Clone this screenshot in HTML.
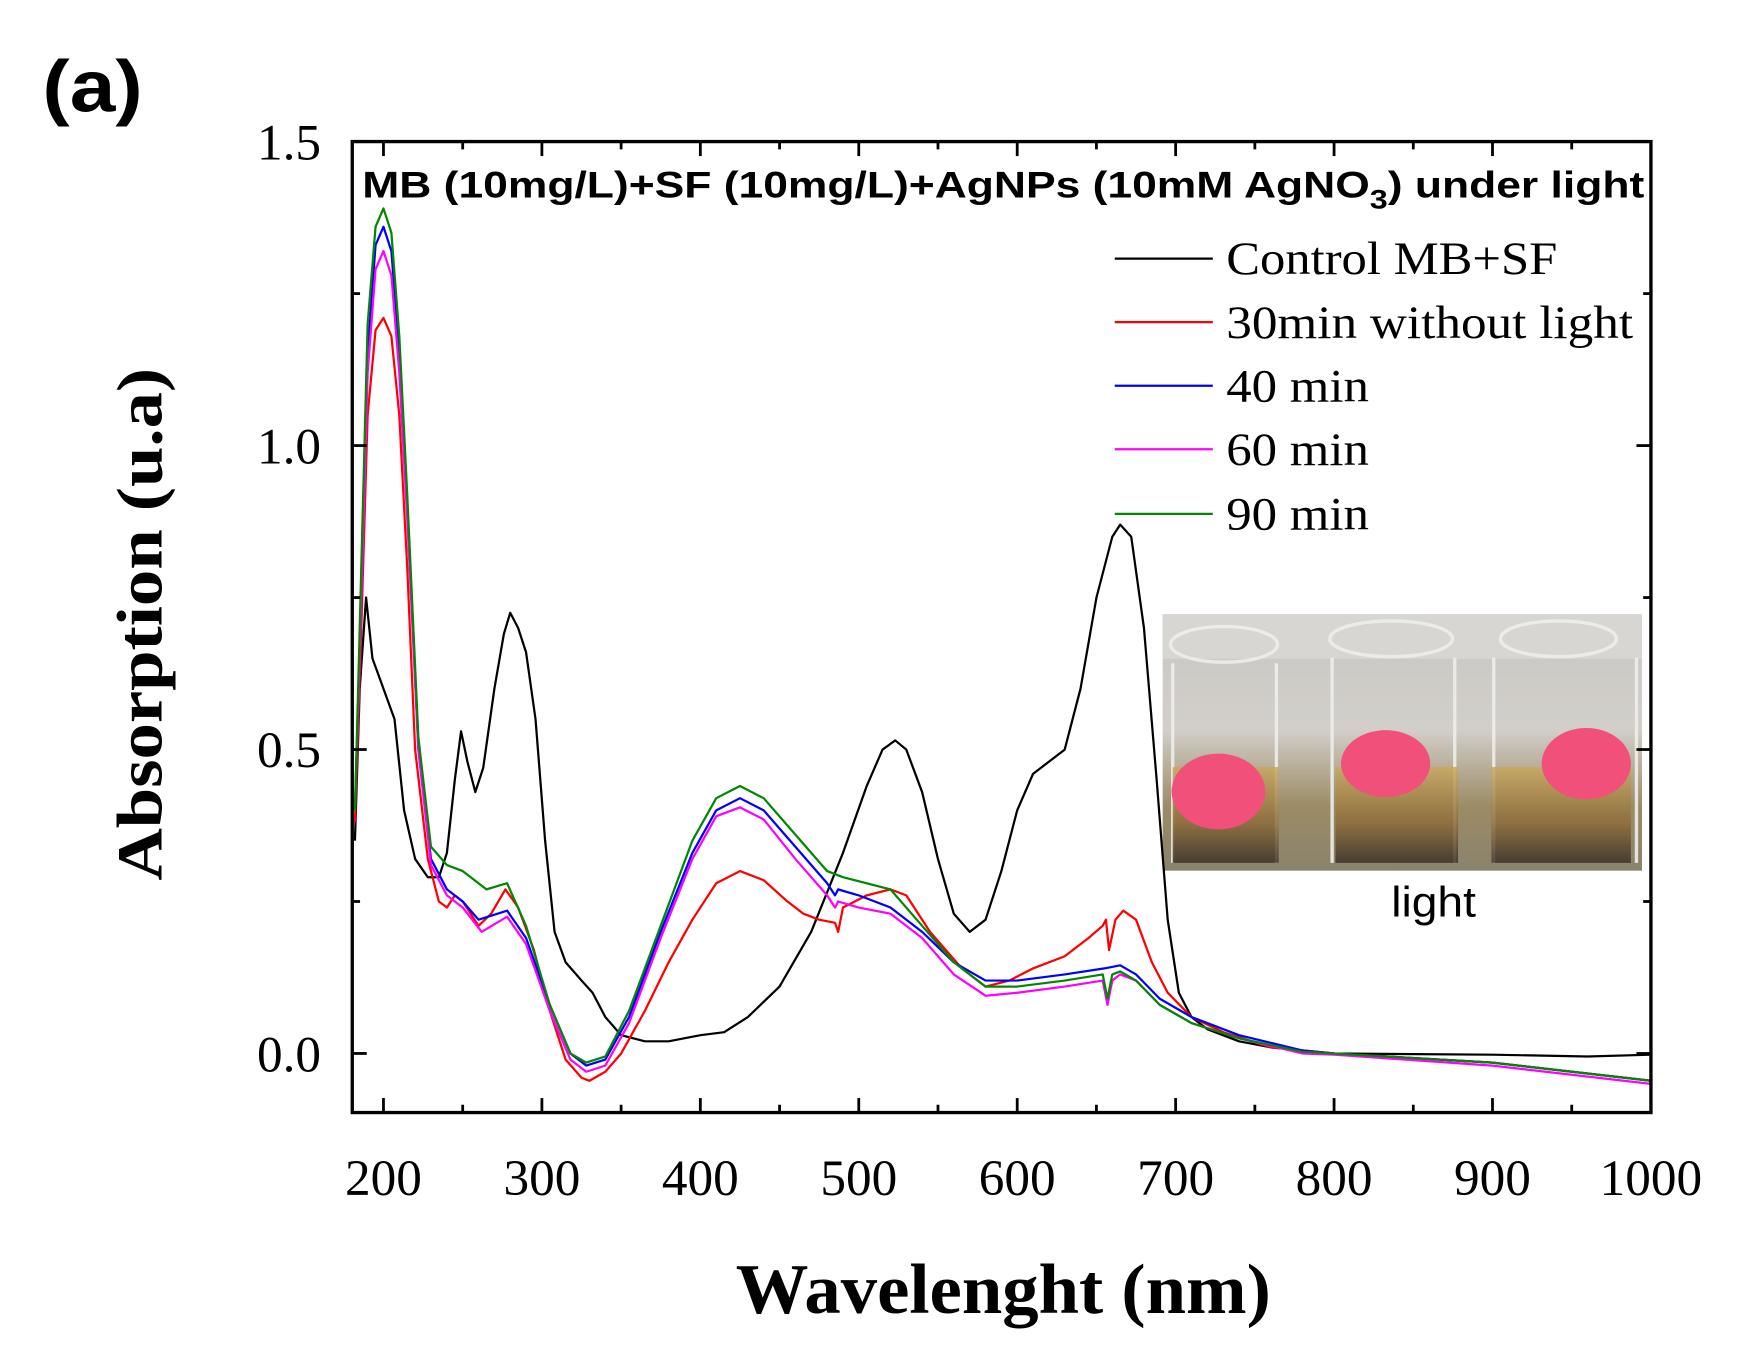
<!DOCTYPE html><html><head><style>html,body{margin:0;padding:0;background:#fff}svg{display:block}</style></head><body>
<svg id="s" width="1739" height="1350" viewBox="0 0 1560 1211" preserveAspectRatio="none" xmlns="http://www.w3.org/2000/svg">
<defs>
<linearGradient id="bg" x1="0" y1="0" x2="0" y2="1"><stop offset="0" stop-color="#c9c7c3"/><stop offset="0.45" stop-color="#d2cfca"/><stop offset="0.75" stop-color="#9c8c66"/><stop offset="1" stop-color="#8a826c"/></linearGradient>
<linearGradient id="liq" x1="0" y1="0" x2="0" y2="1"><stop offset="0" stop-color="#c9a860"/><stop offset="0.6" stop-color="#8a6a3a"/><stop offset="1" stop-color="#3a3028"/></linearGradient>
</defs>
<text x="38" y="100" font-family="Liberation Sans, sans-serif" font-weight="bold" font-size="66" textLength="90" lengthAdjust="spacingAndGlyphs">(a)</text>
<g id="ins">
<rect x="1043" y="551" width="430" height="230" fill="url(#bg)"/>
<rect x="1043" y="551" width="430" height="40" fill="#d8d6d2"/>
<g fill="none" stroke="#eeeeea" stroke-width="3" opacity="0.9">
<ellipse cx="1098" cy="578" rx="48" ry="16"/><ellipse cx="1248" cy="573" rx="55" ry="16"/><ellipse cx="1398" cy="573" rx="52" ry="16"/>
<path d="M1052 595 L1052 774 M1145 595 L1145 774 M1195 590 L1195 774 M1305 590 L1305 774 M1340 590 L1340 774 M1468 590 L1468 774"/>
</g>
<rect x="1052" y="688" width="95" height="86" fill="url(#liq)" opacity="0.85"/>
<rect x="1198" y="688" width="110" height="86" fill="url(#liq)" opacity="0.85"/>
<rect x="1338" y="688" width="125" height="86" fill="url(#liq)" opacity="0.85"/>
<ellipse cx="1093" cy="710" rx="42" ry="34" fill="#f0507a"/>
<ellipse cx="1243" cy="685" rx="40" ry="30" fill="#f0507a"/>
<ellipse cx="1423" cy="685" rx="40" ry="32" fill="#f0507a"/>
</g>
<text x="1286" y="822" font-family="Liberation Sans, sans-serif" font-size="38" text-anchor="middle" textLength="76" lengthAdjust="spacingAndGlyphs">light</text>
<g id="curves" fill="none" stroke-width="2"></g>
<rect x="316" y="127" width="1165" height="871" fill="none" stroke="#000" stroke-width="3"/>
<g id="ticks" stroke="#000" stroke-width="2.5"></g>
<g font-family="Liberation Serif, serif" font-size="46" text-anchor="middle" id="xl"></g>
<g font-family="Liberation Serif, serif" font-size="46" text-anchor="end">
<text x="288" y="143">1.5</text><text x="288" y="416">1.0</text><text x="288" y="688">0.5</text><text x="288" y="961">0.0</text>
</g>
<text x="660" y="1178" font-family="Liberation Serif, serif" font-weight="bold" font-size="64" textLength="480" lengthAdjust="spacingAndGlyphs">Wavelenght (nm)</text>
<text transform="translate(145,790) rotate(-90)" font-family="Liberation Serif, serif" font-weight="bold" font-size="58" textLength="460" lengthAdjust="spacingAndGlyphs">Absorption (u.a)</text>
<text x="325" y="177" font-family="Liberation Sans, sans-serif" font-weight="bold" font-size="33" textLength="1150" lengthAdjust="spacingAndGlyphs">MB (10mg/L)+SF (10mg/L)+AgNPs (10mM AgNO<tspan font-size="24" dy="10">3</tspan><tspan dy="-10">) under light</tspan></text>
<g font-family="Liberation Serif, serif" font-size="42">
<line x1="1000" y1="232" x2="1088" y2="232" stroke="#000" stroke-width="2"/><text x="1100" y="246" textLength="297" lengthAdjust="spacingAndGlyphs">Control MB+SF</text>
<line x1="1000" y1="289" x2="1088" y2="289" stroke="#f00" stroke-width="2"/><text x="1100" y="303" textLength="365" lengthAdjust="spacingAndGlyphs">30min without light</text>
<line x1="1000" y1="346" x2="1088" y2="346" stroke="#00f" stroke-width="2"/><text x="1100" y="360" textLength="128" lengthAdjust="spacingAndGlyphs">40 min</text>
<line x1="1000" y1="403" x2="1088" y2="403" stroke="#f0f" stroke-width="2"/><text x="1100" y="417" textLength="128" lengthAdjust="spacingAndGlyphs">60 min</text>
<line x1="1000" y1="461" x2="1088" y2="461" stroke="#080" stroke-width="2"/><text x="1100" y="475" textLength="128" lengthAdjust="spacingAndGlyphs">90 min</text>
</g>
</svg>
<script>
const X=w=>344+(w-200)*1.42125, Y=a=>945-a*545.3;
const D={
"#000":[[182,0.35],[185,0.6],[189,0.75],[193,0.65],[200,0.6],[207,0.55],[213,0.4],[220,0.32],[228,0.29],[235,0.29],[240,0.33],[245,0.45],[249,0.53],[253,0.48],[258,0.43],[263,0.47],[270,0.6],[276,0.69],[280,0.725],[285,0.7],[290,0.66],[296,0.55],[302,0.35],[308,0.2],[315,0.15],[325,0.12],[332,0.1],[340,0.06],[350,0.03],[365,0.02],[380,0.02],[400,0.03],[415,0.035],[430,0.06],[450,0.11],[470,0.2],[490,0.33],[505,0.44],[515,0.5],[523,0.515],[530,0.5],[540,0.43],[550,0.32],[560,0.23],[570,0.2],[580,0.22],[590,0.3],[600,0.4],[610,0.46],[620,0.48],[630,0.5],[640,0.6],[650,0.75],[660,0.85],[665,0.87],[672,0.85],[680,0.7],[688,0.45],[695,0.22],[702,0.1],[710,0.06],[720,0.04],[740,0.02],[760,0.01],[800,0.0],[900,-0.002],[960,-0.005],[1000,-0.002]],
"#f00":[[182,0.38],[186,0.7],[190,1.05],[195,1.19],[200,1.21],[205,1.18],[210,1.05],[215,0.8],[220,0.5],[228,0.32],[235,0.25],[240,0.24],[245,0.26],[250,0.25],[260,0.21],[268,0.23],[277,0.27],[285,0.24],[295,0.17],[305,0.07],[315,-0.01],[325,-0.04],[330,-0.045],[340,-0.03],[350,0.0],[365,0.07],[380,0.15],[395,0.22],[410,0.28],[425,0.3],[440,0.285],[455,0.25],[465,0.23],[475,0.22],[485,0.215],[487,0.2],[490,0.24],[505,0.26],[520,0.27],[530,0.26],[545,0.2],[565,0.14],[580,0.11],[595,0.12],[610,0.14],[630,0.16],[645,0.19],[654,0.21],[656,0.22],[658,0.17],[662,0.22],[667,0.235],[675,0.22],[685,0.15],[695,0.1],[710,0.06],[730,0.035],[760,0.01],[800,0],[900,-0.015],[1000,-0.045]],
"#00f":[[182,0.4],[186,0.75],[190,1.15],[195,1.33],[200,1.36],[205,1.32],[210,1.15],[215,0.9],[222,0.5],[230,0.32],[240,0.27],[250,0.25],[260,0.22],[278,0.235],[290,0.19],[305,0.08],[318,0.0],[328,-0.02],[340,-0.01],[355,0.06],[375,0.2],[395,0.33],[410,0.4],[425,0.42],[440,0.4],[460,0.34],[480,0.28],[485,0.26],[487,0.27],[500,0.26],[520,0.24],[540,0.2],[560,0.15],[580,0.12],[600,0.12],[630,0.13],[655,0.14],[665,0.145],[675,0.13],[690,0.09],[710,0.06],[740,0.03],[780,0.005],[800,0],[900,-0.015],[1000,-0.045]],
"#f0f":[[182,0.4],[186,0.75],[190,1.12],[195,1.29],[200,1.32],[205,1.28],[210,1.12],[215,0.88],[222,0.5],[230,0.31],[240,0.26],[250,0.24],[262,0.2],[278,0.225],[290,0.18],[305,0.07],[318,-0.01],[328,-0.03],[340,-0.02],[355,0.05],[375,0.19],[395,0.32],[410,0.39],[425,0.405],[440,0.385],[460,0.32],[480,0.26],[485,0.24],[487,0.25],[500,0.24],[520,0.23],[540,0.19],[560,0.13],[580,0.095],[600,0.1],[630,0.11],[654,0.12],[657,0.08],[660,0.12],[665,0.13],[675,0.12],[690,0.08],[710,0.05],[740,0.025],[780,0.0],[800,-0.002],[900,-0.02],[1000,-0.05]],
"#080":[[182,0.4],[186,0.8],[190,1.2],[195,1.36],[200,1.39],[205,1.35],[210,1.18],[215,0.92],[222,0.52],[230,0.34],[240,0.31],[250,0.3],[265,0.27],[278,0.28],[290,0.21],[305,0.08],[318,0.0],[328,-0.015],[340,-0.005],[355,0.07],[375,0.21],[395,0.35],[410,0.42],[425,0.44],[440,0.42],[460,0.36],[480,0.3],[490,0.29],[520,0.27],[540,0.21],[560,0.15],[580,0.11],[600,0.11],[630,0.12],[654,0.13],[657,0.09],[660,0.13],[665,0.135],[675,0.12],[690,0.08],[710,0.05],[740,0.025],[780,0.003],[800,0],[900,-0.015],[1000,-0.045]]};
let c=document.getElementById('curves'),h='';
for(const k in D)h+=`<polyline stroke="${k}" stroke-linejoin="round" points="${D[k].map(p=>X(p[0]).toFixed(1)+','+Y(p[1]).toFixed(1)).join(' ')}"/>`;
c.innerHTML=h;
let t='',xl='';
for(let w=200;w<=1000;w+=50){let x=X(w),L=w%100?7:13;t+=`<line x1="${x}" y1="998" x2="${x}" y2="${998-L}"/><line x1="${x}" y1="127" x2="${x}" y2="${127+L}"/>`;if(w%100==0)xl+=`<text x="${x}" y="1072">${w}</text>`;}
for(let a=0;a<=1.5;a+=0.25){let y=Y(a),L=(a*100)%50?7:13;t+=`<line x1="316" y1="${y}" x2="${316+L}" y2="${y}"/><line x1="1481" y1="${y}" x2="${1481-L}" y2="${y}"/>`;}
document.getElementById('ticks').innerHTML=t;document.getElementById('xl').innerHTML=xl;
</script>
</body></html>
